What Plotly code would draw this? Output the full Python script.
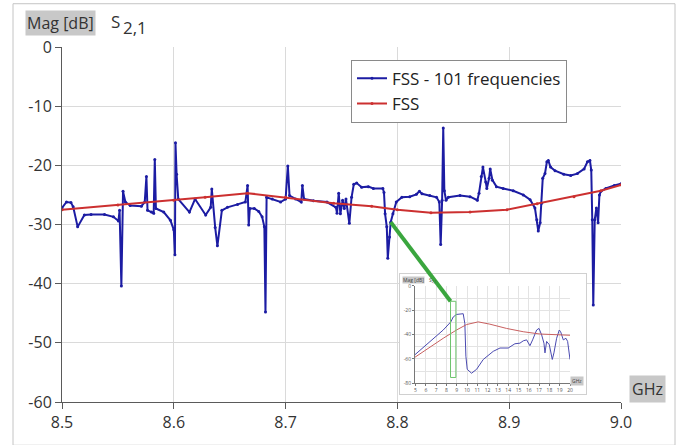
import plotly.graph_objects as go

# ---------------- data ----------------
fss101_ghz = [8.500, 8.504, 8.508, 8.510, 8.514, 8.520, 8.526, 8.538, 8.546, 8.5505,
              8.5515, 8.5531, 8.5546, 8.5567, 8.561, 8.571, 8.574, 8.5755, 8.5765, 8.580,
              8.582, 8.583, 8.584, 8.591, 8.597, 8.600, 8.601, 8.6015, 8.6025, 8.604,
              8.614, 8.619, 8.6285, 8.633, 8.634, 8.637, 8.639, 8.643, 8.648, 8.657,
              8.664, 8.666, 8.667, 8.668, 8.672, 8.676, 8.679, 8.681, 8.682, 8.683,
              8.688, 8.6955, 8.700, 8.702, 8.7035, 8.709, 8.714, 8.715, 8.7165, 8.725,
              8.737, 8.745, 8.746, 8.7475, 8.749, 8.751, 8.7525, 8.754, 8.757, 8.759,
              8.761, 8.7636, 8.768, 8.774, 8.7785, 8.787, 8.788, 8.789, 8.7905, 8.7914,
              8.793, 8.794, 8.796, 8.799, 8.804, 8.811, 8.817, 8.8197, 8.822, 8.829,
              8.835, 8.8375, 8.8387, 8.840, 8.841, 8.842, 8.8435, 8.8456, 8.856, 8.865,
              8.8715, 8.873, 8.875, 8.8765, 8.879, 8.880, 8.882, 8.883, 8.885, 8.8886,
              8.8946, 8.9036, 8.9126, 8.9187, 8.923, 8.9247, 8.926, 8.9277, 8.929, 8.930,
              8.932, 8.9337, 8.935, 8.937, 8.941, 8.9488, 8.955, 8.961, 8.967, 8.970,
              8.9722, 8.9734, 8.9743, 8.9752, 8.9765, 8.978, 8.9795, 8.9807, 8.982, 8.9864,
              8.994, 9.000]
fss101_db = [-27.2, -26.2, -26.3, -27.0, -30.4, -28.4, -28.3, -28.3, -28.7, -29.4,
             -27.6, -40.4, -24.4, -26.2, -26.8, -26.9, -26.2, -21.9, -27.6, -27.9,
             -28.1, -19.0, -27.3, -27.9, -29.3, -30.9, -35.1, -16.2, -21.5, -25.7,
             -27.9, -25.7, -28.4, -27.1, -24.0, -30.5, -33.6, -27.6, -27.1, -26.6,
             -26.2, -23.4, -30.1, -27.3, -27.3, -27.8, -28.7, -30.4, -44.8, -25.4,
             -25.7, -26.2, -25.7, -20.1, -25.1, -25.7, -26.2, -23.4, -25.7, -26.0,
             -26.2, -27.1, -28.1, -24.7, -28.2, -25.9, -27.3, -25.7, -29.8, -25.4,
             -23.2, -23.0, -23.7, -23.6, -23.9, -23.9, -24.6, -28.2, -30.4, -35.7,
             -32.1, -29.6, -28.2, -26.2, -25.4, -25.3, -24.9, -24.4, -24.8, -25.1,
             -25.4, -26.2, -33.4, -25.9, -13.7, -24.3, -25.9, -25.4, -25.1, -25.3,
             -25.9, -24.7, -21.9, -20.3, -22.8, -23.9, -22.2, -20.6, -22.5, -23.6,
             -23.9, -24.3, -25.0, -25.8, -27.2, -29.2, -31.1, -29.7, -26.4, -22.2,
             -21.4, -19.4, -19.2, -20.3, -20.9, -21.5, -21.7, -21.4, -20.6, -19.4,
             -19.2, -20.8, -29.2, -43.6, -29.2, -27.2, -29.7, -25.0, -24.4, -23.9,
             -23.4, -23.1]

fss_ghz = [8.500, 8.550, 8.600, 8.628, 8.666, 8.700, 8.743, 8.777, 8.800, 8.830,
           8.865, 8.898, 8.925, 8.958, 8.982, 9.000]
fss_db = [-27.5, -26.7, -25.9, -25.4, -24.7, -25.4, -26.4, -26.9, -27.5, -28.0,
          -27.9, -27.5, -26.5, -25.3, -24.3, -23.3]

# inset (wide band overview)
inset_blue_ghz = [4.85, 6.39, 7.69, 8.43, 8.66, 8.98, 9.47, 9.63, 9.79, 9.89,
                  10.02, 10.44, 10.93, 11.58, 12.55, 13.2, 14.0, 14.65, 15.14, 15.46,
                  15.79, 15.95, 16.11, 16.37, 16.76, 16.99, 17.25, 17.47, 17.57, 17.73,
                  17.99, 18.28, 18.44, 18.70, 18.96, 19.09, 19.35, 19.61, 19.77, 20.0]
inset_blue_db = [-57.2, -45.6, -36.2, -29.5, -25.5, -23.4, -22.8, -22.8, -30.9, -57.7,
                 -68.5, -71.7, -68.5, -60.4, -53.7, -51.0, -51.0, -47.5, -47.0, -45.1,
                 -44.3, -46.4, -49.1, -44.3, -36.2, -34.9, -40.3, -47.0, -55.0, -45.6,
                 -48.3, -60.4, -55.0, -43.0, -36.2, -37.6, -44.3, -43.0, -45.6, -60.4]
inset_red_ghz = [4.85, 6.39, 7.69, 8.98, 9.96, 11.09, 12.22, 13.84, 15.46, 17.08, 20.0]
inset_red_db = [-59.1, -50.2, -43.0, -36.2, -31.7, -29.5, -31.4, -34.9, -37.6, -39.5, -40.5]

main_y_ticks = [0, -10, -20, -30, -40, -50, -60]
main_y_text = ["0", "-10", "-20", "-30", "-40", "-50", "-60"]
main_x_ticks = [8.5, 8.6, 8.7, 8.8, 8.9, 9.0]
main_x_text = ["8.5", "8.6", "8.7", "8.8", "8.9", "9.0"]
inset_y_ticks = [0, -20, -40, -60, -80]
inset_y_text = ["0", "-20", "-40", "-60", "-80"]
inset_y_minor = [-10, -30, -50, -70]
inset_x_ticks = list(range(5, 21))
inset_x_text = [str(v) for v in inset_x_ticks]

# zoom window marked on the inset and the point it is linked to
zoom_ghz = [8.40, 8.92]
zoom_db = [-75.2, -12.6]
link_point = (8.794, -29.6)

# ---------------- layout geometry ----------------
W, H = 688, 445
L, R, T, B = 62, 621, 47, 408          # main plot area in pixels
PW, PH = R - L, B - T


def px(xp):
    return (xp - L) / PW


def py(yp):
    return (B - yp) / PH


MAIN_X = (8.5, 9.0)
MAIN_Y = (-60, 0)
INSET_FRAME = (400, 586, 278, 400)       # left, right, top, bottom px
INSET_PLOT = (415, 570, 290, 389)
INSET_X = (4.95, 20.0)
INSET_Y = (-80, 0)


def main_to_paper(x, y):
    return ((x - MAIN_X[0]) / (MAIN_X[1] - MAIN_X[0]),
            (y - MAIN_Y[0]) / (MAIN_Y[1] - MAIN_Y[0]))


def inset_to_paper(x, y):
    x0, x1 = px(INSET_PLOT[0]), px(INSET_PLOT[1])
    y0, y1 = py(INSET_PLOT[3]), py(INSET_PLOT[2])
    return (x0 + (x - INSET_X[0]) / (INSET_X[1] - INSET_X[0]) * (x1 - x0),
            y0 + (y - INSET_Y[0]) / (INSET_Y[1] - INSET_Y[0]) * (y1 - y0))


BLUE = "#1c1ca3"
RED = "#cc3030"
GREEN = "#3aa63e"
GRID = "#dadada"
AXC = "#5a5a5a"
LBLBG = "#c8c8c8"
FONT = "Open Sans"

fig = go.Figure()

fig.add_trace(go.Scatter(
    x=fss101_ghz, y=fss101_db, name="FSS - 101 frequencies",
    mode="lines+markers", line=dict(color=BLUE, width=2),
    marker=dict(size=3, color=BLUE)))
fig.add_trace(go.Scatter(
    x=fss_ghz, y=fss_db, name="FSS",
    mode="lines+markers", line=dict(color=RED, width=2),
    marker=dict(size=3, color=RED)))

# inset frame subplot (white background over the main chart)
fig.add_trace(go.Scatter(x=[None], y=[None], xaxis="x2", yaxis="y2",
                         showlegend=False, hoverinfo="skip"))
# inset chart
fig.add_trace(go.Scatter(x=inset_blue_ghz, y=inset_blue_db, xaxis="x3", yaxis="y3",
                         mode="lines", line=dict(color="#4a4ab0", width=1),
                         showlegend=False, hoverinfo="skip"))
fig.add_trace(go.Scatter(x=inset_red_ghz, y=inset_red_db, xaxis="x3", yaxis="y3",
                         mode="lines", line=dict(color="#c86060", width=1),
                         showlegend=False, hoverinfo="skip"))

fig.update_layout(
    width=W, height=H,
    margin=dict(l=L, r=W - R, t=T, b=H - B, pad=0),
    paper_bgcolor="white", plot_bgcolor="white",
    font=dict(family=FONT, size=16, color="#333333"),
    showlegend=True,
    legend=dict(x=px(351), y=py(60), xanchor="left", yanchor="top",
                bgcolor="white", bordercolor="#8a8a8a", borderwidth=1,
                font=dict(size=17, color="#222222"), itemwidth=30,
                tracegroupgap=0),
    xaxis=dict(range=list(MAIN_X), tickmode="array", tickvals=main_x_ticks,
               ticktext=main_x_text, showgrid=True, gridcolor=GRID, gridwidth=1,
               zeroline=False, showline=True, linecolor=AXC, linewidth=1,
               ticks="outside", ticklen=6, tickcolor=AXC,
               tickfont=dict(size=16, color="#333333"), domain=[0, 1]),
    yaxis=dict(range=list(MAIN_Y), tickmode="array", tickvals=main_y_ticks,
               ticktext=main_y_text, showgrid=True, gridcolor=GRID, gridwidth=1,
               zeroline=False, showline=True, linecolor=AXC, linewidth=1,
               ticks="outside", ticklen=6, tickcolor=AXC,
               tickfont=dict(size=16, color="#333333"), domain=[0, 1]),
    xaxis2=dict(domain=[px(INSET_FRAME[0]), px(INSET_FRAME[1])], anchor="y2",
                range=[0, 1], showgrid=False, zeroline=False, showticklabels=False,
                ticks="", showline=True, mirror=True, linecolor="#d0d0d0"),
    yaxis2=dict(domain=[py(INSET_FRAME[3]), py(INSET_FRAME[2])], anchor="x2",
                range=[0, 1], showgrid=False, zeroline=False, showticklabels=False,
                ticks="", showline=True, mirror=True, linecolor="#d0d0d0"),
    xaxis3=dict(domain=[px(INSET_PLOT[0]), px(INSET_PLOT[1])], anchor="y3",
                range=list(INSET_X), tickmode="array", tickvals=inset_x_ticks,
                ticktext=inset_x_text, showgrid=True, gridcolor="#e3e3e3",
                zeroline=False, showline=True, linecolor="#777777",
                ticks="outside", ticklen=2, tickcolor="#777777",
                tickfont=dict(size=5, color="#555555")),
    yaxis3=dict(domain=[py(INSET_PLOT[3]), py(INSET_PLOT[2])], anchor="x3",
                range=list(INSET_Y), tickmode="array", tickvals=inset_y_ticks,
                ticktext=inset_y_text, showgrid=True, gridcolor="#e3e3e3",
                minor=dict(tickmode="array", tickvals=inset_y_minor, showgrid=True,
                           gridcolor="#e3e3e3", ticks=""),
                zeroline=False, showline=True, linecolor="#777777",
                ticks="outside", ticklen=2, tickcolor="#777777",
                tickfont=dict(size=5, color="#555555")),
)

# outer chart frame
fig.add_shape(type="rect", xref="paper", yref="paper",
              x0=px(13), x1=px(675), y0=py(452), y1=py(3),
              line=dict(color="#c4c4c4", width=1), layer="below")

# zoom window on inset
fig.add_shape(type="rect", xref="x3", yref="y3",
              x0=zoom_ghz[0], x1=zoom_ghz[1], y0=zoom_db[0], y1=zoom_db[1],
              line=dict(color="#6cc46c", width=1), layer="above")

# connector from the curve to the inset window
sx, sy = main_to_paper(*link_point)
ex, ey = inset_to_paper(zoom_ghz[0], zoom_db[1])
fig.add_shape(type="line", xref="paper", yref="paper",
              x0=sx, y0=sy, x1=ex, y1=ey,
              line=dict(color=GREEN, width=4), layer="above")


def label(x, y, text, size, bg=None, pad=1, color="#333333"):
    fig.add_annotation(xref="paper", yref="paper", x=px(x), y=py(y),
                       xanchor="center", yanchor="middle", text=text,
                       showarrow=False, bgcolor=bg, borderpad=pad,
                       font=dict(size=size, color=color))


label(60, 22.5, "Mag [dB]", 16, LBLBG, 1)
label(115, 21, "S", 17)
label(135, 27, "2,1", 17)
label(647, 395, "GHz", 16, LBLBG, 2)
# inset labels
label(413, 284, "Mag [dB]", 5, LBLBG, 0, "#444444")
label(433, 284, "S<sub>2,1</sub>", 5, None, 0, "#444444")
label(577, 386.5, "GHz", 5, LBLBG, 1, "#444444")

fig.write_html("out.html", config={"displayModeBar": False},
               post_script="document.body.style.margin='0';")
